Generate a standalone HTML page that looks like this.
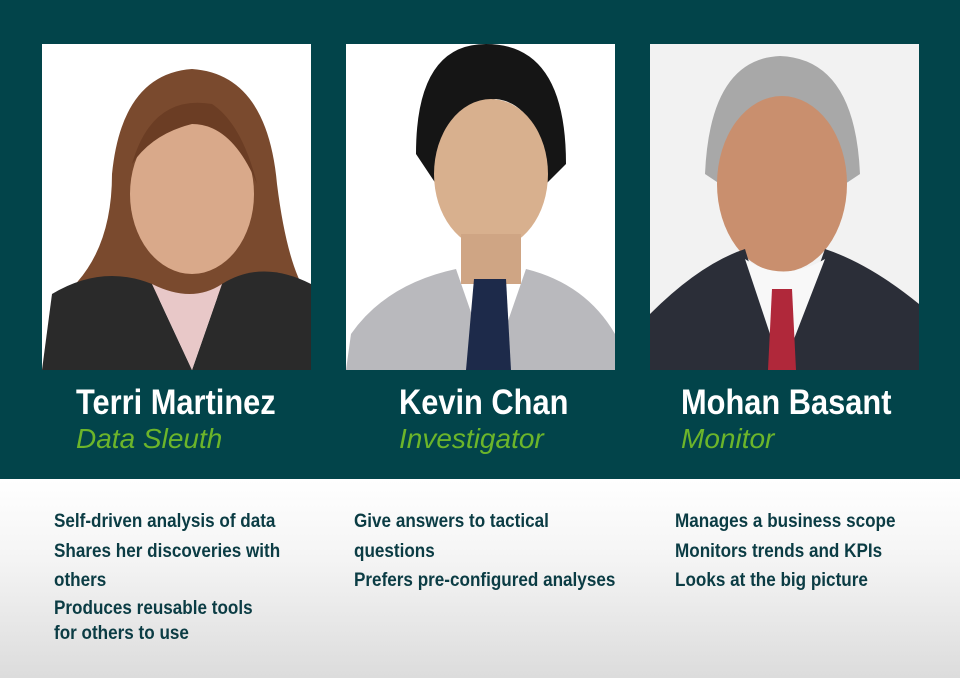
<!DOCTYPE html>
<html><head><meta charset="utf-8"><style>
html,body{margin:0;padding:0}
body{width:960px;height:678px;position:relative;overflow:hidden;font-family:"Liberation Sans",sans-serif;background:linear-gradient(#ffffff 480px,#f4f4f4 560px,#dcdcdc 678px)}
.top{position:absolute;left:0;top:0;width:960px;height:479px;background:#02444a}
.photo{position:absolute;top:44px;width:269px;height:326px;overflow:hidden}
.name{position:absolute;top:383px;color:#fff;font-weight:bold;font-size:35px;white-space:nowrap;transform:scaleX(0.88);transform-origin:left top}
.role{position:absolute;top:423px;color:#6cb52a;font-style:italic;font-size:28px;white-space:nowrap}
.desc{position:absolute;top:507px;color:#0b3c44;font-weight:bold;font-size:19px;line-height:29.5px;white-space:nowrap;transform:scaleX(0.9);transform-origin:left top}
</style></head><body>
<div class="top"></div>

<div class="photo" style="left:42px">
<svg width="269" height="326"><rect width="269" height="326" fill="#fff"/>
<path d="M70 130 Q80 30 150 25 Q225 30 235 140 Q245 220 265 250 L10 260 Q70 220 70 130Z" fill="#7a4a2e"/>
<ellipse cx="150" cy="150" rx="62" ry="80" fill="#d9a98a"/>
<path d="M90 120 Q110 50 170 60 Q200 80 215 140 Q190 80 150 80 Q110 90 90 120Z" fill="#6b3d24"/>
<path d="M0 326 L10 250 Q60 220 110 240 L150 326Z" fill="#2a2a2a"/>
<path d="M269 326 L269 240 Q220 215 180 240 L150 326Z" fill="#2a2a2a"/>
<path d="M110 240 L150 326 L180 240 Q150 260 110 240Z" fill="#e8c8c8"/>
</svg></div>

<div class="photo" style="left:346px">
<svg width="269" height="326"><rect width="269" height="326" fill="#fff"/>
<path d="M70 110 Q70 0 140 0 Q220 0 220 120 L200 140 Q195 60 150 55 Q100 60 90 140Z" fill="#151515"/>
<ellipse cx="145" cy="130" rx="57" ry="75" fill="#d8b08e"/>
<rect x="115" y="190" width="60" height="50" fill="#cfa584"/>
<path d="M0 326 L5 290 Q40 240 110 225 L145 326Z" fill="#b9b9bd"/>
<path d="M269 326 L269 290 Q240 240 180 225 L145 326Z" fill="#b9b9bd"/>
<path d="M128 235 L160 235 L165 326 L120 326Z" fill="#1d2a4a"/>
</svg></div>

<div class="photo" style="left:650px">
<svg width="269" height="326"><rect width="269" height="326" fill="#f2f2f2"/>
<path d="M55 130 Q60 15 130 12 Q205 15 210 130 L195 140 Q190 60 130 55 Q75 60 70 140Z" fill="#a8a8a8"/>
<ellipse cx="132" cy="140" rx="65" ry="88" fill="#c98f6e"/>
<path d="M0 326 L0 270 Q50 220 95 205 L132 326Z" fill="#2b2e38"/>
<path d="M269 326 L269 260 Q220 220 175 205 L132 326Z" fill="#2b2e38"/>
<path d="M95 215 L132 326 L175 215 Q132 240 95 215Z" fill="#f8f8f8"/>
<path d="M122 245 L142 245 L146 326 L118 326Z" fill="#b0283a"/>
</svg></div>

<div class="name" style="left:76px">Terri Martinez</div>
<div class="role" style="left:76px">Data Sleuth</div>
<div class="name" style="left:399px">Kevin Chan</div>
<div class="role" style="left:399px">Investigator</div>
<div class="name" style="left:681px">Mohan Basant</div>
<div class="role" style="left:681px">Monitor</div>

<div class="desc" style="left:54px">Self-driven analysis of data<br>Shares her discoveries with<br>others<br><span style="line-height:25px;display:inline-block">Produces reusable tools<br>for others to use</span></div>
<div class="desc" style="left:354px">Give answers to tactical<br>questions<br>Prefers pre-configured analyses</div>
<div class="desc" style="left:675px">Manages a business scope<br>Monitors trends and KPIs<br>Looks at the big picture</div>
</body></html>
